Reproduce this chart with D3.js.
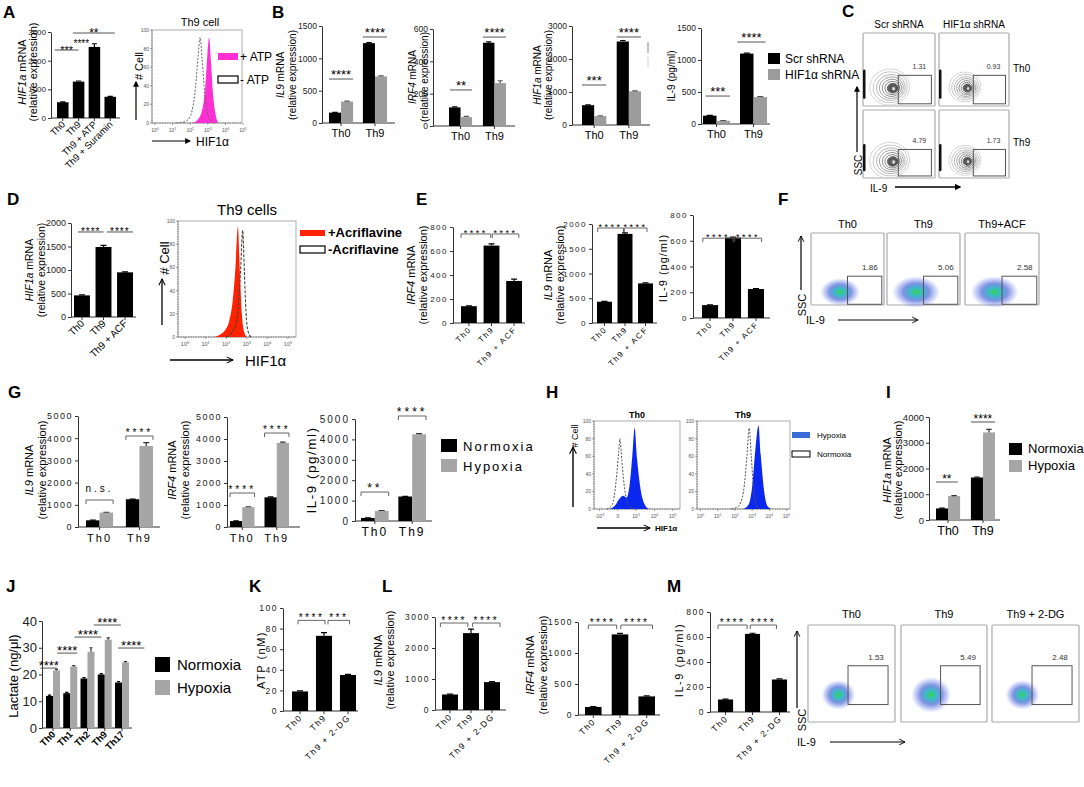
<!DOCTYPE html>
<html><head><meta charset="utf-8">
<script src="https://cdn.jsdelivr.net/npm/d3@7"></script>
<style>body{margin:0;background:#fff}svg{display:block}</style>
</head><body><script>
// ================= DATA =================
const aCats = ["Th0","Th9","Th9 + ATP","Th9 + Suramin"];
const aHif1a = [550,1270,2480,740];
const aHif1aErr = [15,20,110,15];
const aHistPlusATP = [[2.1,0],[2.4,3],[2.65,12],[2.85,38],[2.97,72],[3.07,92],[3.17,68],[3.3,30],[3.45,8],[3.6,0]];
const aHistMinusATP = [[1.2,0],[1.6,1],[1.9,4],[2.1,13],[2.3,38],[2.45,72],[2.56,92],[2.68,68],[2.82,32],[3.0,9],[3.2,2],[3.4,0]];
const thGroups = ["Th0","Th9"];
const shLegend = ["Scr shRNA","HIF1α shRNA"];
const bIl9Scr = [160,1235], bIl9ScrErr = [5,8];
const bIl9Hif = [330,720], bIl9HifErr = [8,10];
const bIrf4Scr = [115,515], bIrf4ScrErr = [3,5];
const bIrf4Hif = [55,265], bIrf4HifErr = [4,15];
const bHifScr = [600,2530], bHifScrErr = [10,30];
const bHifHif = [270,1020], bHifHifErr = [10,15];
const bIl9pScr = [130,1100], bIl9pScrErr = [5,8];
const bIl9pHif = [50,420], bIl9pHifErr = [5,8];
const cCols = ["Scr shRNA","HIF1α shRNA"], cRows = ["Th0","Th9"];
const cPct = [["1.31","0.93"],["4.79","1.73"]];
const dCats = ["Th0","Th9","Th9 + ACF"];
const dHif1a = [460,1490,950], dHif1aErr = [10,35,10];
const dHistPlusACF = [[1.4,0],[1.7,2],[1.95,6],[2.15,14],[2.32,32],[2.45,60],[2.57,95],[2.66,58],[2.76,20],[2.88,4],[3.0,0]];
const dHistMinusACF = [[2.0,0],[2.25,3],[2.45,10],[2.6,28],[2.7,58],[2.8,92],[2.88,58],[2.96,22],[3.06,5],[3.2,0]];
const eIrf4 = [140,645,350], eIrf4Err = [3,15,15];
const eIl9 = [430,1800,800], eIl9Err = [8,20,10];
const eIl9p = [100,625,225], eIl9pErr = [2,4,4];
const fCats = ["Th0","Th9","Th9+ACF"], fPct = ["1.86","5.06","2.58"];
const oxLegend = ["Normoxia","Hypoxia"];
const gIl9Norm = [300,1250], gIl9NormErr = [10,10];
const gIl9Hyp = [650,3650], gIl9HypErr = [15,150];
const gIrf4Norm = [270,1350], gIrf4NormErr = [10,15];
const gIrf4Hyp = [900,3820], gIrf4HypErr = [20,40];
const gIl9pNorm = [150,1200], gIl9pNormErr = [5,10];
const gIl9pHyp = [500,4250], gIl9pHypErr = [15,30];
const hTh0Norm = [[-0.6,0],[-0.3,5],[-0.1,30],[0.05,65],[0.12,80],[0.22,55],[0.38,22],[0.55,6],[0.75,1],[0.95,0]];
const hTh0Hyp = [[-0.45,0],[-0.15,4],[0.1,12],[0.3,15],[0.48,13],[0.65,28],[0.8,62],[0.92,92],[1.05,58],[1.25,22],[1.45,6],[1.7,0]];
const hTh9Norm = [[1.8,0],[2.2,3],[2.5,20],[2.7,60],[2.83,92],[2.95,60],[3.1,20],[3.3,3],[3.5,0]];
const hTh9Hyp = [[2.5,0],[2.8,5],[3.0,25],[3.2,70],[3.37,95],[3.5,62],[3.7,20],[3.9,3],[4.1,0]];
const iHifNorm = [450,1650], iHifNormErr = [10,20];
const iHifHyp = [930,3400], iHifHypErr = [20,120];
const jCats = ["Th0","Th1","Th2","Th9","Th17"];
const jNorm = [12,13,18.5,20,17], jNormErr = [0.3,0.3,0.3,0.3,0.3];
const jHyp = [21.5,23,28.5,33,24.5], jHypErr = [0.4,0.3,1.5,0.7,0.3];
const kCats = ["Th0","Th9","Th9 + 2-DG"];
const kAtp = [19,73,35], kAtpErr = [0.5,3,0.5];
const lIl9 = [500,2480,900], lIl9Err = [10,130,20];
const lIrf4 = [130,1300,300], lIrf4Err = [5,15,10];
const mIl9p = [100,625,260], mIl9pErr = [3,5,5];
const mCats = ["Th0","Th9","Th9 + 2-DG"], mPct = ["1.53","5.49","2.48"];

// ================= HELPERS =================
const FS = '"Liberation Sans", Arial, Helvetica, sans-serif';
const svg = d3.select('body').append('svg').attr('width',1084).attr('height',787).attr('font-family',FS);
const defs = svg.append('defs');
defs.append('marker').attr('id','arrF').attr('viewBox','0 0 10 10').attr('refX',8).attr('refY',5)
  .attr('markerWidth',5).attr('markerHeight',5).attr('orient','auto')
  .append('path').attr('d','M0,0 L10,5 L0,10 z').attr('fill','#000');
defs.append('marker').attr('id','arrO').attr('viewBox','0 0 10 10').attr('refX',9).attr('refY',5)
  .attr('markerWidth',6).attr('markerHeight',6).attr('orient','auto')
  .append('path').attr('d','M1,1 L9,5 L1,9').attr('fill','none').attr('stroke','#000').attr('stroke-width',1.3);
const rg = defs.append('radialGradient').attr('id','cloud');
[[0,'#3ccf4a',1],[0.25,'#22b8c0',0.9],[0.55,'#2a4fd0',0.6],[0.8,'#5068e0',0.3],[1,'#8090f0',0]].forEach(([o,c,a])=>
  rg.append('stop').attr('offset',o).attr('stop-color',c).attr('stop-opacity',a));

function T(x,y,s,o={}){
  const t = svg.append('text').attr('x',x).attr('y',y).attr('font-size',o.fs||11)
    .attr('text-anchor',o.anchor||'start').attr('fill',o.fill||'#000');
  if(o.fw) t.attr('font-weight',o.fw);
  if(o.ls) t.attr('letter-spacing',o.ls);
  if(o.db) t.attr('dominant-baseline',o.db);
  if(o.rot!=null) t.attr('transform',`rotate(${o.rot},${x},${y})`);
  const segs = Array.isArray(s)? s : [[s]];
  segs.forEach(([str,it,sup])=>{
    const sp = t.append('tspan').text(str);
    if(it) sp.attr('font-style','italic');
    if(sup) sp.attr('dy',-(o.fs||11)*0.45).attr('font-size',(o.fs||11)*0.7);
  });
  return t;
}
function L(x1,y1,x2,y2,o={}){
  const l = svg.append('line').attr('x1',x1).attr('y1',y1).attr('x2',x2).attr('y2',y2)
    .attr('stroke',o.stroke||'#000').attr('stroke-width',o.sw||1);
  if(o.dash) l.attr('stroke-dasharray',o.dash);
  if(o.marker) l.attr('marker-end',`url(#${o.marker})`);
  return l;
}
function ylab(xs, cy, lines, o={}){
  lines.forEach((segs,i)=>T(xs[i], cy, segs, Object.assign({rot:-90,anchor:'middle',db:'central',fs:11},o)));
}
function barChart(o){
  const y = d3.scaleLinear().domain([0,o.max]).range([o.base,o.top]);
  const x = d3.scaleBand().domain(o.cats).range(o.band).paddingInner(o.pi).paddingOuter(0);
  const xs = d3.scaleBand().domain(d3.range(o.series.length)).range([0,x.bandwidth()]);
  const g = svg.append('g');
  const fs = o.fs||9;
  const ya = g.append('g').attr('transform',`translate(${o.ax},0)`)
    .call(d3.axisLeft(y).tickValues(o.ticks).tickSize(3).tickSizeOuter(0).tickPadding(o.tp||2).tickFormat(d3.format('d')));
  ya.attr('font-size',fs).attr('font-family',FS);
  ya.select('.domain').attr('stroke','#333');
  ya.selectAll('.tick line').attr('stroke','#333');
  ya.selectAll('.tick text').attr('fill','#222').attr('letter-spacing',o.ls||0);
  g.append('line').attr('x1',o.ax).attr('x2',o.axEnd).attr('y1',o.base).attr('y2',o.base).attr('stroke','#333');
  g.selectAll(null).data(o.cats).join('line')
    .attr('x1',c=>x(c)+x.bandwidth()/2).attr('x2',c=>x(c)+x.bandwidth()/2)
    .attr('y1',o.base).attr('y2',o.base+3).attr('stroke','#333');
  o.series.forEach((s,si)=>{
    g.selectAll(null).data(s.vals).join('rect')
      .attr('x',(d,i)=>x(o.cats[i])+xs(si)).attr('width',xs.bandwidth())
      .attr('y',d=>y(d)).attr('height',d=>o.base-y(d)).attr('fill',s.color);
    const cw = Math.min(6, xs.bandwidth()*0.45);
    g.selectAll(null).data(s.vals).join('path')
      .attr('d',(d,i)=>{const cx=x(o.cats[i])+xs(si)+xs.bandwidth()/2, y0=y(d), y1=y(d+s.errs[i]);
        return `M${cx},${y0}V${y1}M${cx-cw/2},${y1}H${cx+cw/2}`;})
      .attr('stroke',s.ecolor||'#000').attr('stroke-width',1.2).attr('fill','none');
  });
  if(o.rot){
    o.cats.forEach(c=>{const cx=x(c)+x.bandwidth()/2+3;
      T(cx, o.base+7, c, {fs:o.cfs||10, anchor:'end', rot:-45, ls:o.cls, fw:o.cfw});});
  } else {
    o.cats.forEach(c=>T(x(c)+x.bandwidth()/2, o.base+(o.cdy||14), c, {fs:o.cfs||11, anchor:'middle', ls:o.cls}));
  }
  const bx = ([ci,si,f]) => x(o.cats[ci]) + xs(si) + f*xs.bandwidth();
  return {x,xs,y,bx};
}
function sig(ch, list, o={}){
  list.forEach(s=>{
    const xa = ch.bx(s.a), xb = ch.bx(s.b), yy = ch.y(s.v);
    const type = s.type || o.type || 'line';
    if(type==='line') L(xa,yy,xb,yy,{stroke:'#555',sw:1});
    if(type==='bracket') svg.append('path').attr('d',`M${xa},${yy+4}V${yy}H${xb}V${yy+4}`).attr('fill','none').attr('stroke','#555').attr('stroke-width',0.9);
    const dy = s.dy!=null ? s.dy : (o.dy||0);
    T((xa+xb)/2, yy-dy, s.t, {fs:s.fs||o.fs||13, anchor:'middle', ls:o.ls, fw:o.fw});
  });
}
function histo(o){
  const [bx0,by0,bx1,by1] = o.box;
  const x = d3.scaleLinear().domain(o.xdom).range([bx0,bx1]);
  const y = d3.scaleLinear().domain([0,100]).range([by1,by0]);
  svg.append('rect').attr('x',bx0).attr('y',by0).attr('width',bx1-bx0).attr('height',by1-by0)
    .attr('fill','none').attr('stroke','#999').attr('stroke-width',0.8);
  L(bx0,by0,bx0,by1,{stroke:'#666',sw:0.8,dash:'1.5,1'});
  L(bx0,by1,bx1,by1,{stroke:'#666',sw:0.8,dash:'1.5,1'});
  [0,20,40,60,80,100].forEach(v=>{L(bx0-2,y(v),bx0,y(v),{stroke:'#666',sw:0.6});
    T(bx0-3,y(v)+2,String(v),{fs:5,anchor:'end',fill:'#555'});});
  o.xticks.forEach(([v,segs])=>{L(x(v),by1,x(v),by1+2,{stroke:'#666',sw:0.6});
    T(x(v),by1+(o.tdy||9),segs,{fs:o.tfs||6,anchor:'middle',fill:'#555'});});
  o.curves.forEach(c=>{
    if(c.fill){
      svg.append('path').datum(c.pts).attr('d',d3.area().x(d=>x(d[0])).y0(y(0)).y1(d=>y(d[1])).curve(d3.curveMonotoneX))
        .attr('fill',c.fill).attr('stroke',c.stroke||'none').attr('stroke-width',0.6);
    } else {
      svg.append('path').datum(c.pts).attr('d',d3.line().x(d=>x(d[0])).y(d=>y(d[1])).curve(d3.curveMonotoneX))
        .attr('fill','none').attr('stroke',c.stroke).attr('stroke-width',c.sw||1).attr('stroke-dasharray',c.dash||null);
    }
  });
}
function box(x0,y0,x1,y1){
  svg.append('rect').attr('x',x0).attr('y',y0).attr('width',x1-x0).attr('height',y1-y0)
    .attr('fill','#fff').attr('stroke','#aaa').attr('stroke-width',1.2).attr('rx',1);
}
function gate(x0,y0,x1,y1,g,pct,fs){
  const gx0=x0+g[0]*(x1-x0), gy0=y0+g[1]*(y1-y0), gx1=x0+g[2]*(x1-x0), gy1=y0+g[3]*(y1-y0);
  svg.append('rect').attr('x',gx0).attr('y',gy0).attr('width',gx1-gx0).attr('height',gy1-gy0)
    .attr('fill','none').attr('stroke','#555').attr('stroke-width',1);
  T(gx1-12, gy0-6, pct, {fs:fs||7, anchor:'middle', fill:'#333'});
}
function contour(cx,cy,rx,ry){
  const ks=[1,0.86,0.72,0.6,0.48,0.37,0.27,0.18];
  ks.forEach((k,i)=>svg.append('ellipse').attr('cx',cx+(1-k)*rx*0.2).attr('cy',cy+(1-k)*ry*0.12)
    .attr('rx',rx*k).attr('ry',ry*k).attr('fill',i>=6?'#666':'none')
    .attr('stroke',d3.interpolateGreys(0.3+i*0.07)).attr('stroke-width',0.8)
    .attr('transform',`rotate(-8,${cx},${cy})`));
  svg.append('ellipse').attr('cx',cx+rx*0.2).attr('cy',cy+ry*0.1).attr('rx',rx*0.07).attr('ry',ry*0.1).attr('fill','#ddd');
}
function cloud(cx,cy,rx,ry){
  svg.append('ellipse').attr('cx',cx).attr('cy',cy).attr('rx',rx).attr('ry',ry).attr('fill','url(#cloud)');
}

// ================= PANEL LETTERS =================
[["A",3,18],["B",272,18],["C",842,17],["D",7,205],["E",416,205],["F",778,205],["G",8,398],["H",546,398],["I",886,398],["J",6,592],["K",249,592],["L",382,592],["M",667,592]]
  .forEach(([s,x,y])=>T(x,y,s,{fs:17,fw:'bold'}));

// ================= A =================
{
  const ch = barChart({ax:51,axEnd:120,base:118,top:32,max:3000,ticks:[0,1000,2000,3000],cats:aCats,
    series:[{vals:aHif1a,errs:aHif1aErr,color:'#000'}],band:[57,116],pi:0.27,fs:8,rot:true,cfs:9.5});
  sig(ch,[{a:[0,0,-0.2],b:[1,0,0.5],v:2372,t:'***',fs:11},{a:[1,0,-0.3],b:[2,0,0.4],v:2620,t:'****',type:'none',fs:10},{a:[1,0,0],b:[3,0,0.9],v:2965,t:'**'}],{fs:12,dy:-4});
  ylab([22,33],72,[[["HIF1a",true],[" mRNA"]],[["(relative expression)"]]],{fs:11});
  histo({box:[152,30,242,123],xdom:[-0.17,4.94],tfs:5,
    xticks:[0,1,2,3,4,5].map(v=>[v,[["10"],[String(v),false,true]]]),
    curves:[{pts:aHistPlusATP,fill:'#ff2fd6'},{pts:aHistMinusATP,stroke:'#666',dash:'2,1.5',sw:1}]});
  T(200,26,"Th9 cell",{fs:11,anchor:'middle'});
  svg.append('rect').attr('x',218).attr('y',53).attr('width',20).attr('height',7).attr('fill','#ff2fd6');
  T(240,61,"+ ATP",{fs:12});
  svg.append('rect').attr('x',218).attr('y',76).attr('width',20).attr('height',7).attr('fill','#fff').attr('stroke','#000').attr('stroke-width',1.2);
  T(240,84,"- ATP",{fs:12});
  L(136,120,136,82,{sw:1.2,marker:'arrF'});
  T(139,66,"# Cell",{fs:11,rot:-90,anchor:'middle',db:'central'});
  L(152,141,190,141,{sw:1.2,marker:'arrF'});
  T(196,146,"HIF1α",{fs:12});
}
// ================= B =================
{
  const ser = (a,ae,b,be)=>[{vals:a,errs:ae,color:'#000'},{vals:b,errs:be,color:'#9c9c9c',ecolor:'#555'}];
  const o = {fs:8.5,cfs:11};
  let ch = barChart(Object.assign({ax:322,axEnd:395,base:123,top:26,max:1500,ticks:[0,500,1000,1500],cats:thGroups,
    series:ser(bIl9Scr,bIl9ScrErr,bIl9Hif,bIl9HifErr),band:[329,387],pi:0.29},o));
  sig(ch,[{a:[0,0,0],b:[0,1,1],v:680,t:'****'},{a:[1,0,0],b:[1,1,1],v:1330,t:'****'}],{fs:13,dy:0});
  ylab([280,292],75,[[["IL9",true],[" mRNA"]],[["(relative expression)"]]],{fs:10});
  ch = barChart(Object.assign({ax:433,axEnd:515,base:126,top:29,max:600,ticks:[0,200,400,600],cats:thGroups,
    series:ser(bIrf4Scr,bIrf4ScrErr,bIrf4Hif,bIrf4HifErr),band:[449,506],pi:0.32},o));
  sig(ch,[{a:[0,0,0.1],b:[0,1,1],v:223,t:'**'},{a:[1,0,0],b:[1,1,1],v:550,t:'****'}],{fs:13,dy:0});
  ylab([412,424],77,[[["IRF4",true],[" mRNA"]],[["(relative expression)"]]],{fs:10});
  ch = barChart(Object.assign({ax:572,axEnd:650,base:125,top:26,max:3000,ticks:[0,1000,2000,3000],cats:thGroups,
    series:ser(bHifScr,bHifScrErr,bHifHif,bHifHifErr),band:[582,641],pi:0.3},o));
  sig(ch,[{a:[0,0,0],b:[0,1,1],v:1212,t:'***'},{a:[1,0,0],b:[1,1,1],v:2667,t:'****'}],{fs:13,dy:0});
  ylab([537,548],75,[[["HIF1a",true],[" mRNA"]],[["(relative expression)"]]],{fs:10});
  L(648,42,648,53,{stroke:'#888',sw:1}); L(648,57,648,67,{stroke:'#ccc',sw:1});
  ch = barChart(Object.assign({ax:701,axEnd:770,base:124,top:28,max:1500,ticks:[0,500,1000,1500],cats:thGroups,
    series:ser(bIl9pScr,bIl9pScrErr,bIl9pHif,bIl9pHifErr),band:[703,767],pi:0.27},o));
  sig(ch,[{a:[0,0,0.2],b:[0,1,1],v:437,t:'***'},{a:[1,0,-0.2],b:[1,1,0.9],v:1281,t:'****'}],{fs:13,dy:0});
  ylab([671],76,[[["IL-9 (pg/ml)"]]],{fs:10});
  svg.append('rect').attr('x',768).attr('y',53).attr('width',12).attr('height',11).attr('fill','#000');
  T(785,63,shLegend[0],{fs:12});
  svg.append('rect').attr('x',768).attr('y',69).attr('width',12).attr('height',11).attr('fill','#9c9c9c');
  T(785,79,shLegend[1],{fs:12});
}
// ================= C =================
{
  const cols=[[863,935],[939,1009]], rows=[[33,106],[110,178]];
  cCols.forEach((c,i)=>T((cols[i][0]+cols[i][1])/2,28,c,{fs:10,anchor:'middle'}));
  cRows.forEach((r,i)=>T(1013,(rows[i][0]+rows[i][1])/2+2,r,{fs:10}));
  rows.forEach((r,ri)=>cols.forEach((c,ci)=>{
    box(c[0],r[0],c[1],r[1]);
    const w=c[1]-c[0], h=r[1]-r[0];
    contour(c[0]+0.37*w, r[0]+0.74*h, ci? 16:20, ci?15:18);
    svg.append('rect').attr('x',c[0]).attr('y',r[0]+0.5*h).attr('width',2.5).attr('height',0.4*h).attr('fill','#111').attr('rx',1.2);
    gate(c[0],r[0],c[1],r[1],[0.49,0.58,0.95,0.97],cPct[ri][ci],7);
  }));
  L(857,152,857,87,{sw:1.2,marker:'arrF'});
  T(858,165,"SSC",{fs:10,rot:-90,anchor:'middle',db:'central'});
  T(870,192,"IL-9",{fs:10});
  L(895,187,960,187,{sw:1.3,marker:'arrF'});
}
// ================= D =================
{
  const ch = barChart({ax:71,axEnd:136,base:317,top:223,max:2000,ticks:[0,500,1000,1500,2000],cats:dCats,
    series:[{vals:dHif1a,errs:dHif1aErr,color:'#000'}],band:[74,133],pi:0.26,fs:9,rot:true,cfs:10});
  sig(ch,[{a:[0,0,0.25],b:[1,0,0.5],v:1809,t:'****'},{a:[1,0,0.7],b:[2,0,1],v:1809,t:'****'}],{fs:10,ls:1,dy:-3});
  ylab([29,41],270,[[["HIF1a",true],[" mRNA"]],[["(relative expression)"]]],{fs:10.5});
  histo({box:[178,221,296,337],xdom:[-0.34,5.39],tfs:5.5,
    xticks:[0,1,2,3,4,5].map(v=>[v,[["10"],[String(v),false,true]]]),
    curves:[{pts:dHistPlusACF,fill:'#ff2200'},{pts:dHistMinusACF,stroke:'#444',dash:'3,1.5',sw:1.1}]});
  T(247,215,"Th9 cells",{fs:15,anchor:'middle'});
  svg.append('rect').attr('x',300).attr('y',230).attr('width',25).attr('height',6).attr('fill','#ff2200');
  T(328,237,"+Acriflavine",{fs:13,fw:'bold'});
  svg.append('rect').attr('x',300).attr('y',246).attr('width',25).attr('height',7).attr('fill','#fff').attr('stroke','#000').attr('stroke-width',1.2);
  T(328,254,"-Acriflavine",{fs:13,fw:'bold'});
  L(162,325,162,279,{sw:1.3,marker:'arrO'});
  T(164,258,"# Cell",{fs:13,rot:-90,anchor:'middle',db:'central'});
  L(170,360,233,360,{sw:1.3,marker:'arrO'});
  T(245,366,"HIF1α",{fs:15});
}
// ================= E =================
{
  const o = {fs:8,ls:1.5,rot:true,cfs:8,cls:1.5};
  const so = {type:'bracket',fs:9,ls:2.5,dy:-2};
  let ch = barChart(Object.assign({ax:453,axEnd:525,base:323,top:227,max:800,ticks:[0,200,400,600,800],cats:dCats,
    series:[{vals:eIrf4,errs:eIrf4Err,color:'#000'}],band:[461,522],pi:0.3},o));
  sig(ch,[{a:[0,0,0],b:[1,0,0.45],v:742,t:'****'},{a:[1,0,0.55],b:[2,0,0.8],v:742,t:'****'}],so);
  ylab([411,423],275,[[["IRF4",true],[" mRNA"]],[["(relative expression)"]]],{fs:11});
  ch = barChart(Object.assign({ax:592,axEnd:657,base:323,top:224,max:2000,ticks:[0,500,1000,1500,2000],cats:dCats,
    series:[{vals:eIl9,errs:eIl9Err,color:'#000'}],band:[597,653],pi:0.27},o));
  sig(ch,[{a:[0,0,0.05],b:[1,0,0.4],v:1919,t:'****'},{a:[1,0,0.45],b:[2,0,0.6],v:1919,t:'****'}],so);
  ylab([548,560],275,[[["IL9",true],[" mRNA"]],[["(relative expression)"]]],{fs:11});
  ch = barChart(Object.assign({ax:693,axEnd:770,base:318,top:215,max:800,ticks:[0,200,400,600,800],cats:dCats,
    series:[{vals:eIl9p,errs:eIl9pErr,color:'#000'}],band:[702,764],pi:0.3},o));
  sig(ch,[{a:[0,0,0.05],b:[1,0,0.5],v:620,t:'****'},{a:[1,0,0.6],b:[2,0,0.85],v:620,t:'****'}],so);
  ylab([663],268,[[["IL-9  (pg/ml)"]]],{fs:11,ls:1});
}
// ================= F =================
{
  const bxs=[[811,884],[887,960],[965,1039]], y0=233, y1=305;
  bxs.forEach((b,i)=>{
    T((b[0]+b[1])/2,228,fCats[i],{fs:11,anchor:'middle'});
    box(b[0],y0,b[1],y1);
    const w=b[1]-b[0];
    cloud(b[0]+0.4*w, y0+0.82*(y1-y0), i===0?20:24, i===0?14:16);
    gate(b[0],y0,b[1],y1,[0.5,0.6,0.97,0.99],fPct[i],8);
  });
  L(801,290,801,236,{sw:1.2,marker:'arrO'});
  T(802,305,"SSC",{fs:11,rot:-90,anchor:'middle',db:'central'});
  T(806,324,"IL-9",{fs:11});
  L(838,320,918,320,{sw:1.2,marker:'arrO'});
}
// ================= G =================
{
  const ser = (a,ae,b,be)=>[{vals:a,errs:ae,color:'#000'},{vals:b,errs:be,color:'#a6a6a6',ecolor:'#333'}];
  const o = {fs:9,ls:1.5,cfs:11,cls:2,cdy:15};
  const so = {type:'bracket',fs:10,ls:3,dy:0};
  let ch = barChart(Object.assign({ax:78,axEnd:160,base:527,top:416,max:5000,ticks:[0,1000,2000,3000,4000,5000],cats:thGroups,
    series:ser(gIl9Norm,gIl9NormErr,gIl9Hyp,gIl9HypErr),band:[86,153],pi:0.32},o));
  sig(ch,[{a:[0,0,0],b:[0,1,1],v:1216,t:'n.s.',dy:8},{a:[1,0,0],b:[1,1,1],v:4099,t:'****'}],so);
  ylab([29,42],470,[[["IL9",true],[" mRNA"]],[["(relative expression)"]]],{fs:11});
  ch = barChart(Object.assign({ax:227,axEnd:300,base:527,top:417,max:5000,ticks:[0,1000,2000,3000,4000,5000],cats:thGroups,
    series:ser(gIrf4Norm,gIrf4NormErr,gIrf4Hyp,gIrf4HypErr),band:[230,289],pi:0.29},o));
  sig(ch,[{a:[0,0,0],b:[0,1,1],v:1545,t:'****'},{a:[1,0,0],b:[1,1,1],v:4272,t:'****'}],so);
  ylab([172,185],470,[[["IRF4",true],[" mRNA"]],[["(relative expression)"]]],{fs:11});
  ch = barChart(Object.assign({ax:355,axEnd:432,base:521,top:419,max:5000,ticks:[0,1000,2000,3000,4000,5000],cats:thGroups,
    series:ser(gIl9pNorm,gIl9pNormErr,gIl9pHyp,gIl9pHypErr),band:[361,426],pi:0.26},o,{fs:10,ls:2,cfs:12}));
  sig(ch,[{a:[0,0,0],b:[0,1,1],v:1420,t:'**'},{a:[1,0,0],b:[1,1,1],v:5147,t:'****'}],{type:'bracket',fs:12,ls:3,dy:0});
  ylab([311],470,[[["IL-9  (pg/ml)"]]],{fs:13.5,ls:1.5});
  svg.append('rect').attr('x',441).attr('y',439).attr('width',16).attr('height',13).attr('fill','#000');
  T(463,451,oxLegend[0],{fs:13,ls:2});
  svg.append('rect').attr('x',441).attr('y',459).attr('width',16).attr('height',13).attr('fill','#a6a6a6');
  T(463,471,oxLegend[1],{fs:13,ls:2});
}
// ================= H =================
{
  histo({box:[594,421,680,509],xdom:[-1.3,3.4],tfs:5,
    xticks:[[-1,[["-10"],["3",false,true]]],[0,[["0"]]],[1,[["10"],["3",false,true]]],[2,[["10"],["4",false,true]]],[3,[["10"],["5",false,true]]]],
    curves:[{pts:hTh0Hyp,fill:'#0a28f0'},{pts:hTh0Norm,stroke:'#555',dash:'2,1.5',sw:1}]});
  T(637,418,"Th0",{fs:9,fw:'bold',anchor:'middle'});
  histo({box:[697,421,790,509],xdom:[-0.2,5.2],tfs:5,
    xticks:[0,1,2,3,4,5].map(v=>[v,[["10"],[String(v),false,true]]]),
    curves:[{pts:hTh9Hyp,fill:'#0a28f0'},{pts:hTh9Norm,stroke:'#555',dash:'2,1.5',sw:1}]});
  T(743,418,"Th9",{fs:9,fw:'bold',anchor:'middle'});
  svg.append('rect').attr('x',792).attr('y',432).attr('width',18).attr('height',6).attr('fill','#3b6bd6');
  T(817,438,"Hypoxia",{fs:8});
  svg.append('rect').attr('x',792).attr('y',451).attr('width',18).attr('height',6).attr('fill','#fff').attr('stroke','#000');
  T(817,457,"Normoxia",{fs:8});
  L(573,507,573,447,{sw:1.4,marker:'arrO'});
  T(575,436,"# Cell",{fs:9,rot:-90,anchor:'middle',db:'central'});
  L(597,528,650,528,{sw:1.3,marker:'arrO'});
  T(655,531,"HIF1α",{fs:8,fw:'bold'});
}
// ================= I =================
{
  const ch = barChart({ax:929,axEnd:1000,base:520,top:417,max:4000,ticks:[0,1000,2000,3000,4000],cats:thGroups,
    series:[{vals:iHifNorm,errs:iHifNormErr,color:'#000'},{vals:iHifHyp,errs:iHifHypErr,color:'#a6a6a6',ecolor:'#333'}],
    band:[936,995],pi:0.31,fs:9.5,cfs:12.5,cdy:15});
  sig(ch,[{a:[0,0,0],b:[0,1,0.8],v:1476,t:'**'},{a:[1,0,0],b:[1,1,1],v:3806,t:'****'}],{fs:12,dy:-1});
  ylab([887,898],470,[[["HIF1a",true],[" mRNA"]],[["(relative expression)"]]],{fs:11});
  svg.append('rect').attr('x',1009).attr('y',443).attr('width',13).attr('height',12).attr('fill','#000');
  T(1028,453,oxLegend[0],{fs:13});
  svg.append('rect').attr('x',1009).attr('y',460).attr('width',13).attr('height',12).attr('fill','#a6a6a6');
  T(1028,470,oxLegend[1],{fs:13});
}
// ================= J =================
{
  const ch = barChart({ax:42,axEnd:132,base:728,top:621,max:40,ticks:[0,10,20,30,40],cats:jCats,
    series:[{vals:jNorm,errs:jNormErr,color:'#000'},{vals:jHyp,errs:jHypErr,color:'#a6a6a6',ecolor:'#333'}],
    band:[46,129],pi:0.19,fs:13,rot:true,cfs:9.5,cfw:'bold'});
  sig(ch,[{a:[0,0,-0.8],b:[0,1,0.6],v:22.4,t:'****'},{a:[0,1,0.6],b:[1,1,1],v:28,t:'****'},
    {a:[1,1,0.6],b:[2,1,2.0],v:34,t:'****'},{a:[2,1,0.9],b:[3,1,2.3],v:38.5,t:'****'},{a:[3,1,1.9],b:[4,1,3.2],v:29.9,t:'****'}],{fs:13,dy:-2});
  ylab([13],676,[[["Lactate (ng/μl)"]]],{fs:13});
  svg.append('rect').attr('x',155).attr('y',657).attr('width',15).attr('height',15).attr('fill','#000');
  T(177,670,oxLegend[0],{fs:15});
  svg.append('rect').attr('x',155).attr('y',680).attr('width',15).attr('height',15).attr('fill','#a6a6a6');
  T(177,693,oxLegend[1],{fs:15});
}
// ================= K, L, M =================
{
  const o = {fs:8.5,ls:1.5,rot:true,cfs:8.5,cls:1.5};
  const so = {type:'bracket',fs:10,ls:2.5,dy:-1};
  let ch = barChart(Object.assign({ax:283,axEnd:358,base:711,top:608,max:100,ticks:[0,20,40,60,80,100],cats:kCats,
    series:[{vals:kAtp,errs:kAtpErr,color:'#000'}],band:[292,356],pi:0.33},o));
  sig(ch,[{a:[0,0,0.375],b:[1,0,0.56],v:88,t:'****'},{a:[1,0,0.75],b:[2,0,0.6],v:88,t:'***'}],so);
  ylab([261],660,[[["ATP  (nM)"]]],{fs:11,ls:1.5});
  ch = barChart(Object.assign({ax:435,axEnd:506,base:710,top:617,max:3000,ticks:[0,1000,2000,3000],cats:kCats,
    series:[{vals:lIl9,errs:lIl9Err,color:'#000'}],band:[442,500],pi:0.24},o));
  sig(ch,[{a:[0,0,-0.1],b:[1,0,0.3],v:2806,t:'****'},{a:[1,0,0.6],b:[2,0,1],v:2806,t:'****'}],so);
  ylab([378,390],660,[[["IL9",true],[" mRNA"]],[["(relative expression)"]]],{fs:11});
  ch = barChart(Object.assign({ax:578,axEnd:660,base:715,top:622,max:1500,ticks:[0,500,1000,1500],cats:kCats,
    series:[{vals:lIrf4,errs:lIrf4Err,color:'#000'}],band:[585,655],pi:0.38},o));
  sig(ch,[{a:[0,0,0.2],b:[1,0,0.3],v:1451,t:'****'},{a:[1,0,0.55],b:[2,0,0.85],v:1451,t:'****'}],so);
  ylab([530,543],665,[[["IRF4",true],[" mRNA"]],[["(relative expression)"]]],{fs:11});
  ch = barChart(Object.assign({ax:710,axEnd:790,base:712,top:612,max:800,ticks:[0,200,400,600,800],cats:kCats,
    series:[{vals:mIl9p,errs:mIl9pErr,color:'#000'}],band:[718,787],pi:0.44},o));
  sig(ch,[{a:[0,0,0],b:[1,0,0.15],v:696,t:'****'},{a:[1,0,0.35],b:[2,0,0.3],v:696,t:'****'}],so);
  ylab([679],660,[[["IL-9  (pg/ml)"]]],{fs:11,ls:1.5});
  const bxs=[[808,895],[901,987],[992,1079]], y0=625, y1=722;
  bxs.forEach((b,i)=>{
    T((b[0]+b[1])/2,618,mCats[i],{fs:11,anchor:'middle'});
    box(b[0],y0,b[1],y1);
    const w=b[1]-b[0];
    cloud(b[0]+0.35*w, y0+0.72*(y1-y0), i===1?20:17, i===1?18:15);
    gate(b[0],y0,b[1],y1,[0.46,0.42,0.92,0.82],mPct[i],8);
  });
  L(797,708,797,631,{sw:1.2,marker:'arrO'});
  T(802,720,"SSC",{fs:11,rot:-90,anchor:'middle',db:'central'});
  T(797,746,"IL-9",{fs:11});
  L(830,742,905,742,{sw:1.2,marker:'arrO'});
}
</script></body></html>
